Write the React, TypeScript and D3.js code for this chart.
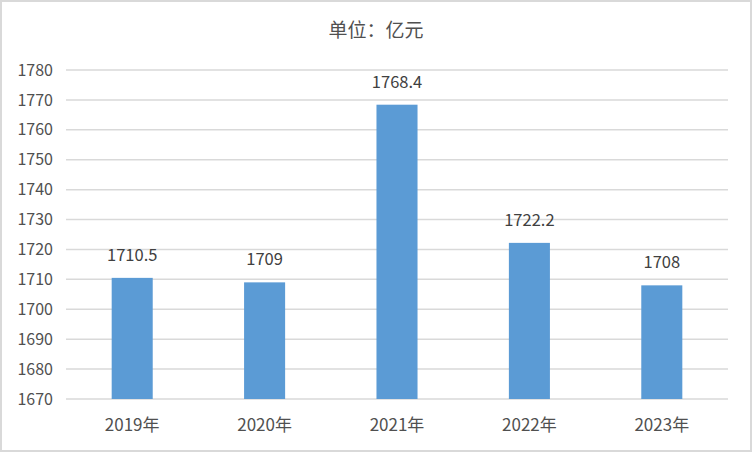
import React from "react";
import * as d3 from "d3";

const years = ["2019年", "2020年", "2021年", "2022年", "2023年"];
const values = [1710.5, 1709, 1768.4, 1722.2, 1708];
const valueLabels = ["1710.5", "1709", "1768.4", "1722.2", "1708"];
const yTicks = [1670, 1680, 1690, 1700, 1710, 1720, 1730, 1740, 1750, 1760, 1770, 1780];

const W = 752;
const H = 452;
const margin = { left: 66, right: 24, top: 70, bottom: 53 };
const font = "'Noto Sans CJK SC', 'Microsoft YaHei', sans-serif";
const textColor = "#505050";

const App = () => {
  const x = d3
    .scaleBand()
    .domain(years)
    .range([margin.left, W - margin.right])
    .paddingInner(0.69)
    .paddingOuter(0.345);

  const y = d3
    .scaleLinear()
    .domain([1670, 1780])
    .range([H - margin.bottom, margin.top]);

  return (
    <svg
      width={W}
      height={H}
      style={{ position: "absolute", left: 0, top: 0, background: "#fff" }}
      fontFamily={font}
    >
      <rect x={1} y={1} width={W - 2} height={H - 2} fill="#fff" stroke="#d9d9d9" strokeWidth={2} />
      <text x={376} y={37} textAnchor="middle" fontSize={19} fill={textColor}>
        单位：亿元
      </text>
      {yTicks.map((t) => (
        <g key={t}>
          <line
            x1={margin.left}
            x2={W - margin.right}
            y1={y(t)}
            y2={y(t)}
            stroke="#d9d9d9"
            strokeWidth={1.5}
          />
          <text
            x={53}
            y={y(t)}
            dy="0.35em"
            textAnchor="end"
            fontSize={16}
            fill={textColor}
          >
            {t}
          </text>
        </g>
      ))}
      {years.map((c, i) => (
        <g key={c}>
          <rect
            x={x(c)}
            y={y(values[i])}
            width={x.bandwidth()}
            height={y(1670) - y(values[i])}
            fill="#5b9bd5"
          />
          <text
            x={(x(c) as number) + x.bandwidth() / 2}
            y={y(values[i]) - 17}
            textAnchor="middle"
            fontSize={16.5}
            fill="#404040"
          >
            {valueLabels[i]}
          </text>
          <text
            x={(x(c) as number) + x.bandwidth() / 2}
            y={425}
            dy="0.35em"
            textAnchor="middle"
            fontSize={17}
            fill={textColor}
          >
            {c}
          </text>
        </g>
      ))}
    </svg>
  );
};

export default App;
